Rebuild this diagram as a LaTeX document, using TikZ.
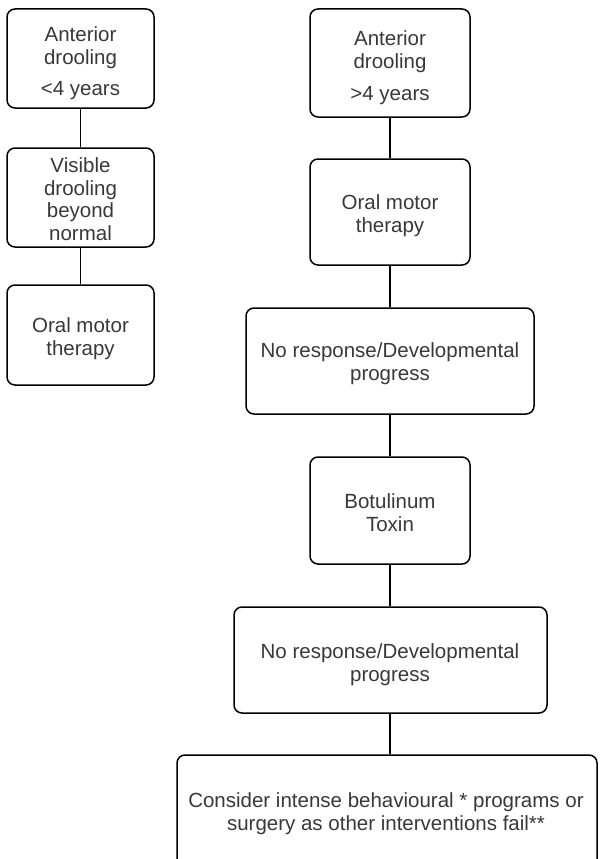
\documentclass[tikz,border=0pt]{standalone}
\usepackage{fontspec}
\setmainfont{Liberation Sans}
\definecolor{textgray}{HTML}{383838}
\begin{document}
\begin{tikzpicture}[x=1pt,y=-1pt,
  box/.style={draw, line width=1.5pt, rounded corners=8pt, inner sep=0pt},
  txt/.style={font=\fontsize{20.5}{22.5}\selectfont, text=textgray, align=center, anchor=base, inner sep=0pt},
  conn/.style={line width=1.1pt}]
\useasboundingbox (0,0) rectangle (600,859);
\clip (0,0) rectangle (600,859);
% left column
\node[box, minimum width=147pt, minimum height=99pt] (bL1) at (80.5,58.5) {};
\node[box, minimum width=147pt, minimum height=99pt] (bL2) at (80.5,197.5) {};
\node[box, minimum width=147pt, minimum height=100pt] (bL3) at (80.5,335) {};
\node[txt] (tL1) at (80.5,95) {Anterior\\drooling\\[8.5pt]<4 years};
\node[txt] (tL2) at (80.5,240) {Visible\\drooling\\beyond\\normal};
\node[txt] (tL3) at (80.5,355) {Oral motor\\therapy};
% right column
\node[box, minimum width=160pt, minimum height=108pt] (bA) at (390,63) {};
\node[box, minimum width=160pt, minimum height=106pt] (bB) at (390,212) {};
\node[box, minimum width=288pt, minimum height=106pt] (bC) at (390,361) {};
\node[box, minimum width=160pt, minimum height=107pt] (bD) at (390,510.5) {};
\node[box, minimum width=313pt, minimum height=106pt] (bE) at (390.5,660) {};
\node[box, minimum width=420pt, minimum height=150pt] (bF) at (387,830) {};
\node[txt] (tA) at (390,100) {Anterior\\drooling\\[9.5pt]>4 years};
\node[txt] (tB) at (390,232) {Oral motor\\therapy};
\node[txt] (tC) at (390,380) {No response/Developmental\\progress};
\node[txt] (tD) at (390,531) {Botulinum\\Toxin};
\node[txt] (tE) at (390,681) {No response/Developmental\\progress};
\node[txt] (tF) at (386,830) {Consider intense behavioural * programs or\\surgery as other interventions fail**};
% connectors
\draw[conn] (bL1.south) -- (bL2.north);
\draw[conn] (bL2.south) -- (bL3.north);
\draw[conn] (bA.south) -- (bB.north);
\draw[conn] (bB.south) -- (bC.north);
\draw[conn] (bC.south) -- (bD.north);
\draw[conn] (bD.south) -- (bE.north -| bD.south);
\draw[conn] (bE.south -| bD.south) -- (bF.north -| bD.south);
\end{tikzpicture}
\end{document}
